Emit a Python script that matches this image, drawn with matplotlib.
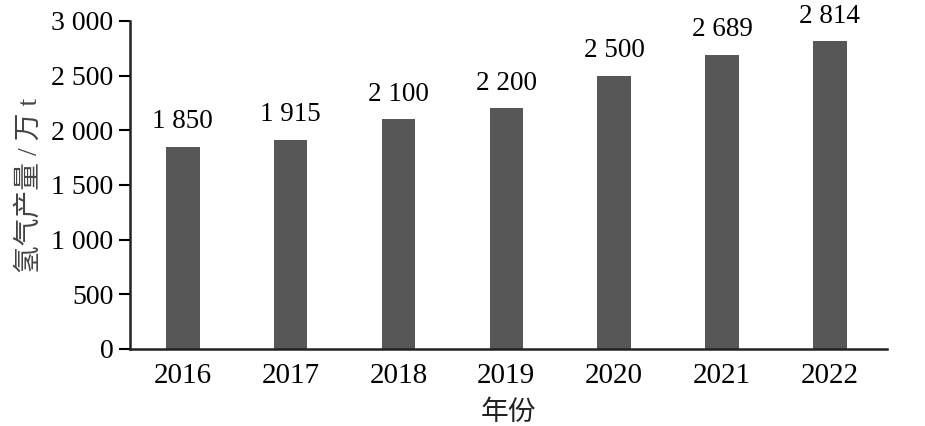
import matplotlib.pyplot as plt
from matplotlib.ticker import FuncFormatter

plt.rcParams['font.family'] = ['Liberation Serif', 'Noto Sans CJK SC']

years = ["2016", "2017", "2018", "2019", "2020", "2021", "2022"]
output = [1850, 1915, 2100, 2200, 2500, 2689, 2814]
yticks = [0, 500, 1000, 1500, 2000, 2500, 3000]


def fmt(v, pos=None):
    return "{:,}".format(int(v)).replace(",", " ")


fig = plt.figure(figsize=(9.25, 4.26), dpi=100)
ax = fig.add_axes([0.1405, 0.1808, 0.8185, 0.770])

x = list(range(len(years)))
ax.bar(x, output, width=0.31, color="#575757")
for xi, v in zip(x, output):
    ax.annotate(fmt(v), (xi, v), xytext=(0, 9), textcoords="offset points",
                ha="center", va="bottom", fontsize=19.5)

ax.set_xlim(-0.49, 6.53)
ax.set_ylim(0, 3000)
ax.set_xticks(x)
ax.set_xticklabels(years)
ax.set_yticks(yticks)
ax.yaxis.set_major_formatter(FuncFormatter(fmt))
ax.tick_params(axis="x", length=0, labelsize=21, pad=10)
ax.tick_params(axis="y", length=8, width=1.5, labelsize=20, pad=4)

for s in ["top", "right"]:
    ax.spines[s].set_visible(False)
for s in ["left", "bottom"]:
    ax.spines[s].set_linewidth(1.8)
    ax.spines[s].set_color("#222222")

ax.set_ylabel("氢气产量 / 万 t", fontsize=20, color="#444444", labelpad=6)
ax.set_xlabel("年份", fontsize=20, color="#222222", labelpad=8)

plt.savefig("out.png", dpi=100)
